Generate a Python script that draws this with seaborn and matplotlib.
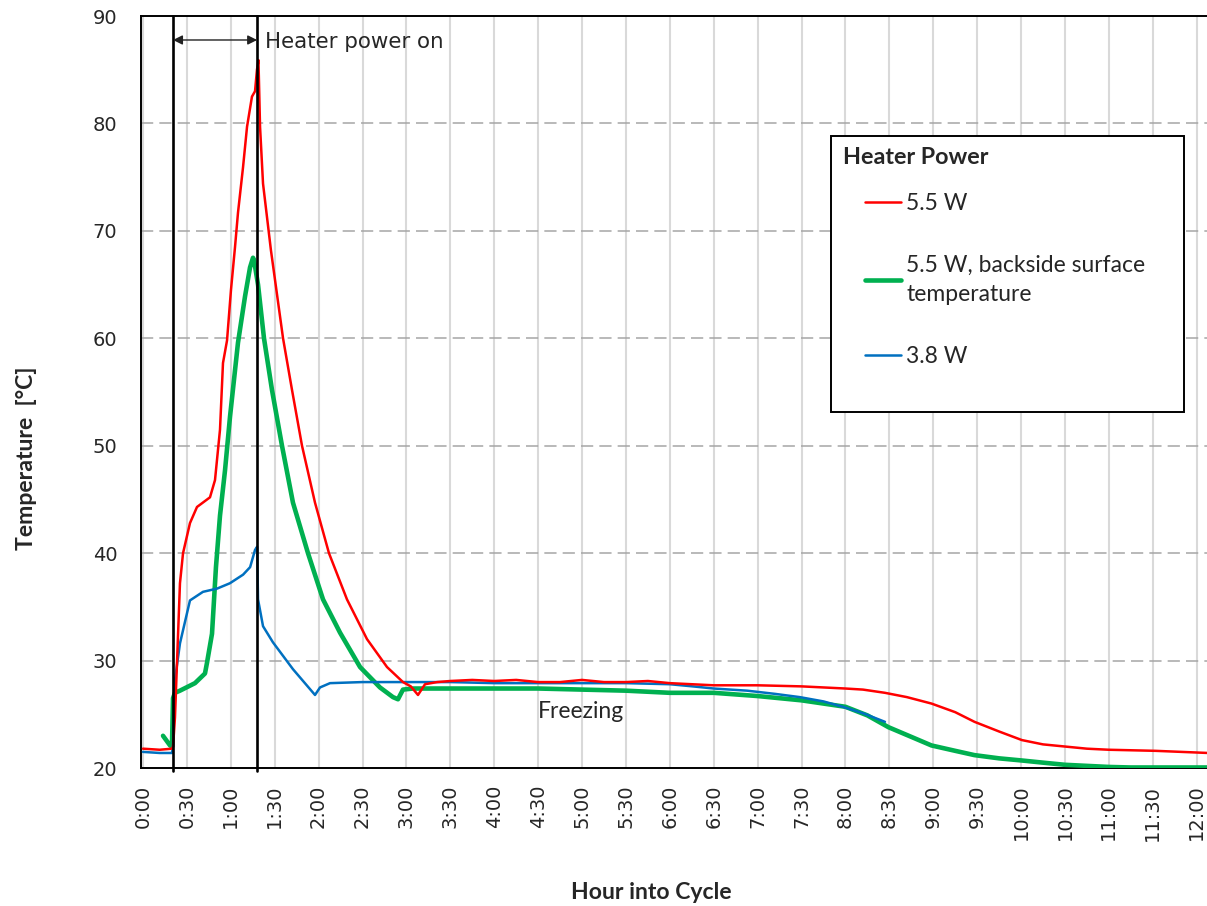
import matplotlib
matplotlib.use("Agg")
import matplotlib.pyplot as plt
from matplotlib.patches import Rectangle
from matplotlib.ticker import MultipleLocator
import seaborn as sns

# hours into cycle / temperature [degC]
red_hours = [0.0, 0.19, 0.33, 0.342, 0.364, 0.421, 0.456, 0.535, 0.615, 0.763, 0.82, 0.877,
             0.911, 0.957, 1.002, 1.048, 1.082, 1.139, 1.185, 1.241, 1.276, 1.298, 1.315,
             1.333, 1.367, 1.457, 1.595, 1.697, 1.811, 1.959, 2.118, 2.323, 2.551, 2.779,
             2.961, 3.05, 3.132, 3.212, 3.35, 3.5, 3.75, 4.0, 4.25, 4.5, 4.75, 5.0, 5.25,
             5.5, 5.75, 6.0, 6.25, 6.5, 7.0, 7.5, 8.0, 8.2, 8.45, 8.7, 8.98, 9.25, 9.47,
             9.75, 10.01, 10.25, 10.5, 10.75, 11.0, 11.53, 12.13]
red_temp = [21.8, 21.7, 21.8, 22.0, 24.7, 37.2, 40.0, 42.8, 44.3, 45.2, 46.8, 51.5,
            57.7, 59.8, 64.5, 68.5, 71.7, 75.9, 79.7, 82.5, 83.0, 85.0, 85.9,
            79.7, 74.4, 68.2, 60.0, 55.2, 50.0, 44.7, 40.0, 35.7, 32.0, 29.4,
            28.0, 27.6, 26.8, 27.8, 28.0, 28.1, 28.2, 28.1, 28.2, 28.0, 28.0, 28.2, 28.0,
            28.0, 28.1, 27.9, 27.8, 27.7, 27.7, 27.6, 27.4, 27.3, 27.0, 26.6, 26.0, 25.2, 24.3,
            23.4, 22.6, 22.2, 22.0, 21.8, 21.7, 21.6, 21.4]

green_hours = [0.228, 0.308, 0.33, 0.342, 0.364, 0.421, 0.592, 0.706, 0.729, 0.786, 0.831,
               0.877, 0.934, 0.991, 1.082, 1.162, 1.219, 1.253, 1.264, 1.31, 1.378, 1.469,
               1.583, 1.708, 1.879, 2.05, 2.244, 2.472, 2.699, 2.847, 2.904, 2.961, 3.075,
               3.5, 4.0, 4.5, 5.0, 5.5, 6.0, 6.5, 7.0, 7.5, 8.0, 8.25, 8.49, 8.75, 8.98,
               9.25, 9.47, 9.75, 10.01, 10.25, 10.5, 11.0, 11.25, 12.13]
green_temp = [23.0, 22.1, 22.0, 26.5, 27.0, 27.2, 27.9, 28.8, 29.8, 32.5, 38.7,
              43.5, 47.7, 52.7, 59.6, 63.9, 66.6, 67.5, 67.3, 65.0, 60.0, 55.2,
              50.0, 44.7, 40.0, 35.7, 32.6, 29.4, 27.5, 26.6, 26.4, 27.3, 27.4,
              27.4, 27.4, 27.4, 27.3, 27.2, 27.0, 27.0, 26.7, 26.3, 25.7, 24.9, 23.8, 22.9, 22.1,
              21.6, 21.2, 20.9, 20.7, 20.5, 20.3, 20.1, 20.05, 20.05]

blue_hours = [0.0, 0.19, 0.33, 0.342, 0.364, 0.421, 0.535, 0.683, 0.843, 0.99, 1.14, 1.22,
              1.276, 1.30, 1.31, 1.367, 1.48, 1.708, 1.959, 2.016, 2.13, 2.5, 3.0, 3.5,
              4.0, 4.5, 5.0, 5.5, 6.0, 6.26, 6.5, 6.88, 7.2, 7.48, 7.75, 7.97, 8.2, 8.45]
blue_temp = [21.5, 21.4, 21.4, 22.0, 28.2, 31.6, 35.6, 36.4, 36.7, 37.2, 38.0, 38.7,
             40.3, 40.6, 35.7, 33.2, 31.7, 29.2, 26.8, 27.5, 27.9, 28.0, 28.0, 28.0,
             27.9, 27.9, 27.9, 27.9, 27.8, 27.6, 27.4, 27.2, 26.9, 26.6, 26.2, 25.7, 25.1, 24.3]

series_labels = ["5.5 W", "5.5 W, backside surface\ntemperature", "3.8 W"]
series_colors = ["#ff0000", "#00b050", "#0070c0"]

tick_hours = [i * 0.5 for i in range(25)]
tick_labels = ["0:00", "0:30", "1:00", "1:30", "2:00", "2:30", "3:00", "3:30", "4:00",
               "4:30", "5:00", "5:30", "6:00", "6:30", "7:00", "7:30", "8:00", "8:30",
               "9:00", "9:30", "10:00", "10:30", "11:00", "11:30", "12:00"]

heater_on, heater_off = 0.342, 1.30

sns.set_style("white")
plt.rcParams["font.family"] = ["DejaVu Sans"]
lab_font = "Lato"

fig = plt.figure(figsize=(12.07, 9.06), dpi=100)
ax = fig.add_axes([0.1168, 0.1523, 0.8832, 0.8300])

sns.lineplot(x=red_hours, y=red_temp, ax=ax, color=series_colors[0], lw=1.8, zorder=3.3)
sns.lineplot(x=green_hours, y=green_temp, ax=ax, color=series_colors[1], lw=3.3, zorder=3.1)
sns.lineplot(x=blue_hours, y=blue_temp, ax=ax, color=series_colors[2], lw=1.8, zorder=3.2)

ax.set_xlim(-0.023, 12.118)
ax.set_ylim(20, 90)
ax.set_xticks(tick_hours)
ax.set_xticklabels(tick_labels, rotation=90, fontsize=14)
ax.set_yticks(range(20, 91, 10))
ax.yaxis.set_minor_locator(MultipleLocator(2))
ax.tick_params(axis="y", which="both", direction="in", length=6, width=1.2, pad=17, labelsize=14)
ax.tick_params(axis="x", length=0, pad=12)

ax.grid(False)
for h in tick_hours:
    ax.axvline(h, color="#d9d9d9", lw=1.5, zorder=0.5)
for t in range(30, 90, 10):
    ax.axhline(t, color="#a6a6a6", lw=1.1, dashes=(8, 4), zorder=0.6)

for s in ["top", "left", "bottom"]:
    ax.spines[s].set_color("black")
    ax.spines[s].set_linewidth(1.4)
ax.spines["right"].set_visible(False)

# heater on/off markers
for h in (heater_on, heater_off):
    ax.axvline(h, ymin=-0.004, ymax=1, color="black", lw=1.9, zorder=4, clip_on=False)
ax.annotate("", xy=(heater_off, 87.77), xytext=(heater_on, 87.77),
            arrowprops=dict(arrowstyle="<|-|>", color="#222222", lw=1.0, mutation_scale=14,
                            shrinkA=0, shrinkB=0), zorder=5)
ax.text(1.39, 87.58, "Heater power on", fontsize=15.4, va="center", ha="left", zorder=5)
ax.text(4.5, 25.26, "Freezing", fontsize=16.5, family=lab_font, va="center", ha="left", zorder=5)

ax.set_xlabel("Hour into Cycle", fontsize=16.6, family=lab_font, fontweight="bold")
ax.set_ylabel("Temperature  [°C]", fontsize=16.6, family=lab_font, fontweight="bold")
ax.xaxis.set_label_coords(0.479, -0.166)
ax.xaxis.label.set_va("center")
ax.yaxis.set_label_coords(-0.107, 0.412)
ax.yaxis.label.set_va("center")

# legend box
ax.add_patch(Rectangle((0.647, 0.473), 0.331, 0.367, transform=ax.transAxes,
                       facecolor="white", edgecolor="black", lw=1.4, zorder=6))
ax.text(0.6585, 0.812, "Heater Power", transform=ax.transAxes, fontsize=16.8,
        family=lab_font, fontweight="bold", va="center", ha="left", zorder=7)
handles = ax.get_lines()[:3]
leg = ax.legend(handles, series_labels, loc="upper left", bbox_to_anchor=(0.679, 0.765),
                frameon=False, borderpad=0, borderaxespad=0, handlelength=1.6,
                handletextpad=0.2, labelspacing=1.78, prop={"family": lab_font, "size": 16.5})
leg.set_zorder(8)
for t in leg.get_texts():
    t.set_linespacing(1.52)

fig.savefig("out.png", dpi=100)
